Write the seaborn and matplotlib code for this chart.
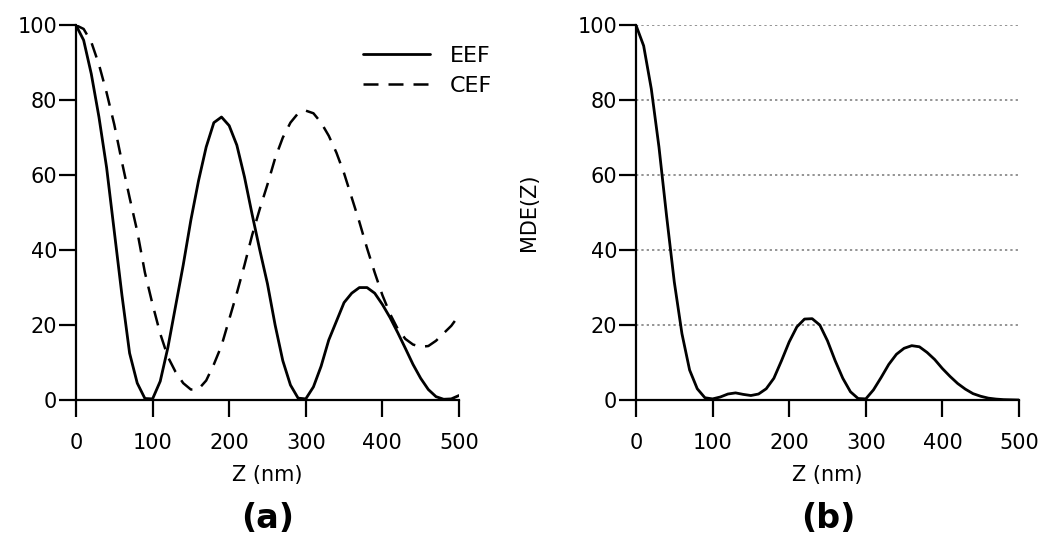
import numpy as np
import pandas as pd
import matplotlib
matplotlib.use("Agg")
import matplotlib.pyplot as plt
import seaborn as sns

# depth Z in nm, sampled every 10 nm
z_nm = list(range(0, 510, 10))

eef = [100, 96, 87, 75.5, 62, 45, 28, 12.5, 4.5, 0.4,
       0.3, 5, 14, 25, 36, 48, 58.5, 67.5, 74, 75.5,
       73.2, 68, 59.5, 49.5, 40, 31, 20, 10.5, 4, 0.5,
       0.3, 3.5, 9, 16, 21, 26, 28.5, 30, 30, 28.5,
       25.5, 22, 18, 13.8, 9.5, 5.8, 2.8, 0.9, 0.2, 0.3,
       1.2]

cef = [100, 99, 95.5, 89.5, 82, 73.5, 63.5, 54, 45, 34,
       25.5, 17.7, 11.5, 7.5, 4.5, 2.8, 2.9, 5.2, 9.5, 14.5,
       21.5, 28.5, 36, 44, 51, 57.5, 64.5, 70, 74, 76.5,
       77.2, 76.5, 74, 70.5, 66, 60.5, 54, 47.5, 40.5, 34,
       28, 23, 19, 16.3, 14.8, 14.2, 14.4, 15.8, 17.8, 19.8,
       22.6]

mde = [100, 94.5, 83, 67.5, 49, 31.5, 17.7, 8, 3, 0.6,
       0.3, 0.8, 1.6, 1.9, 1.5, 1.2, 1.6, 3, 5.8, 10.5,
       15.5, 19.5, 21.6, 21.7, 20, 15.8, 10.5, 5.8, 2.2, 0.4,
       0.3, 2.7, 6, 9.5, 12.2, 13.8, 14.5, 14.2, 12.7, 10.8,
       8.4, 6.3, 4.4, 2.9, 1.7, 1, 0.5, 0.25, 0.1, 0.05,
       0]

x_ticks = [0, 100, 200, 300, 400, 500]
y_ticks = [0, 20, 40, 60, 80, 100]

sns.set_style("ticks")
plt.rcParams['font.family'] = ['DejaVu Sans']
plt.rcParams['font.size'] = 15
plt.rcParams['text.color'] = 'black'
plt.rcParams['axes.labelcolor'] = 'black'

fig = plt.figure(figsize=(10.45, 5.37), dpi=100)
ax_a = fig.add_axes([0.0727, 0.2551, 0.3665, 0.698])
ax_b = fig.add_axes([0.6086, 0.2551, 0.3665, 0.698])

df = pd.DataFrame({"z": z_nm, "EEF": eef, "CEF": cef, "MDE": mde})

sns.lineplot(data=df, x="z", y="EEF", ax=ax_a, color="black", lw=2, label="EEF")
sns.lineplot(data=df, x="z", y="CEF", ax=ax_a, color="black", lw=1.8,
             linestyle=(0, (6, 4)), label="CEF")
sns.lineplot(data=df, x="z", y="MDE", ax=ax_b, color="black", lw=2)

# dotted horizontal guides on panel (b)
for y in y_ticks[1:]:
    ax_b.plot([0, 500], [y, y], color="#777777", lw=1.1, ls=(0, (1.5, 2)), zorder=0)

for ax in (ax_a, ax_b):
    ax.set_xlim(0, 500)
    ax.set_ylim(0, 100)
    ax.set_xticks(x_ticks)
    ax.set_yticks(y_ticks)
    for s in ("top", "right"):
        ax.spines[s].set_visible(False)
    for s in ("left", "bottom"):
        ax.spines[s].set_linewidth(1.6)
        ax.spines[s].set_color("black")
    ax.tick_params(axis="both", direction="out", length=12.5, width=1.6,
                   colors="black", labelsize=15)
    ax.tick_params(axis="y", pad=1)
    ax.tick_params(axis="x", pad=11)
    ax.set_xlabel("Z (nm)", fontsize=15, labelpad=9)
    ax.set_ylabel("")

ax_b.set_ylabel("MDE(Z)", fontsize=15, labelpad=28)

leg = ax_a.legend(loc="upper left", bbox_to_anchor=(0.72, 0.975), frameon=False,
                  handlelength=3.0, handletextpad=0.9, labelspacing=0.45,
                  borderpad=0, fontsize=16)

fig.text(0.2565, 0.035, "(a)", ha="center", va="center", fontsize=24, fontweight="bold")
fig.text(0.7925, 0.035, "(b)", ha="center", va="center", fontsize=24, fontweight="bold")

fig.savefig("out.png", dpi=100)
